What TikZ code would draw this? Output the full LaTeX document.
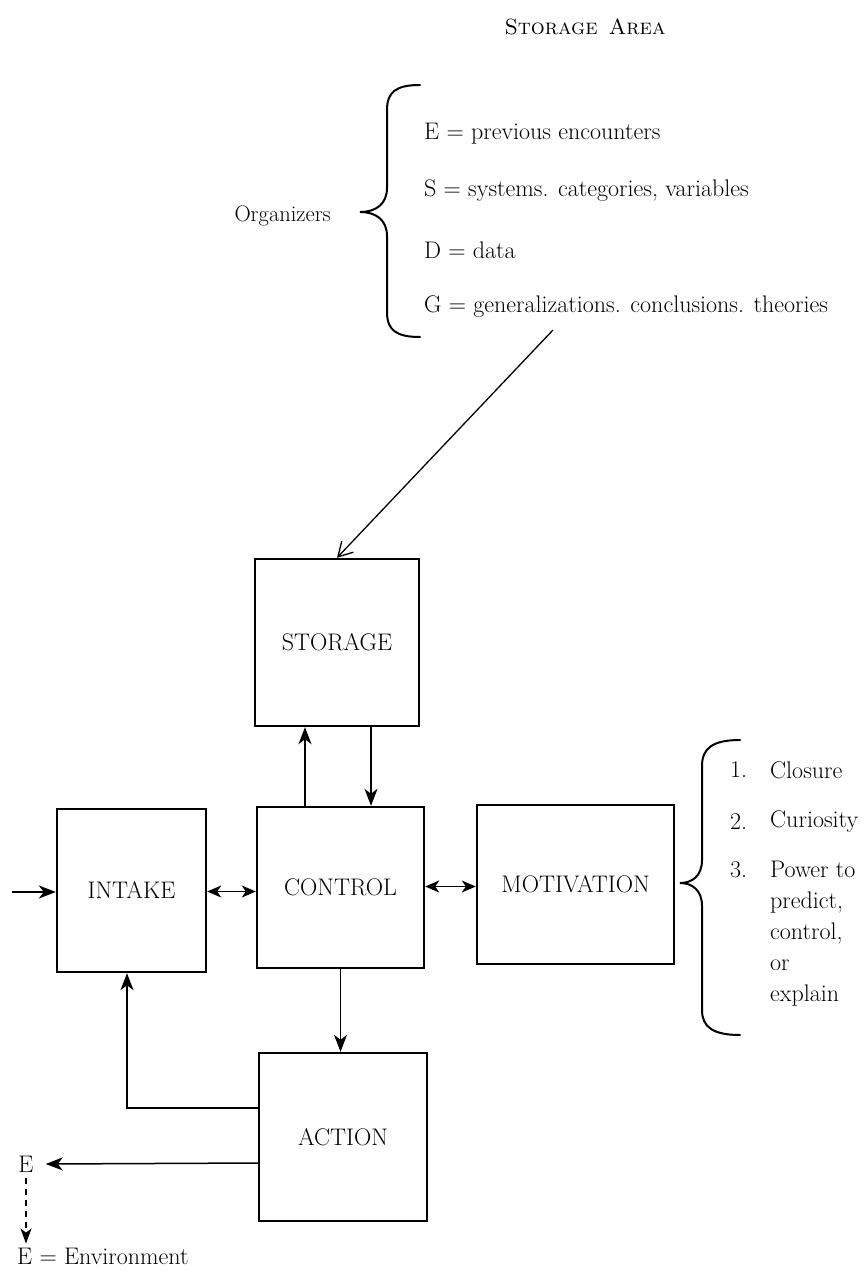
\documentclass[tikz,border=0pt]{standalone}
\usetikzlibrary{arrows.meta}
\begin{document}
\begin{tikzpicture}[x=1pt,y=-1pt,
  blk/.style={draw,line width=2.4pt,inner sep=0pt,font=\fontsize{24}{28}\selectfont},
  txt/.style={inner sep=0pt,font=\fontsize{24}{31}\selectfont},
  arr/.style={line width=1.5pt,-{Stealth[length=17pt,width=13pt,inset=5pt]}},
  darr/.style={line width=1.5pt,{Stealth[length=14pt,width=12pt,inset=4pt]}-{Stealth[length=14pt,width=12pt,inset=4pt]}},
  oarr/.style={line width=1.3pt,-{Straight Barb[length=14pt,width=16pt]}},
  brc/.style={line width=2pt,line cap=round}]
\useasboundingbox (0,0) rectangle (865,1273);

% title
\node[txt,font=\fontsize{22}{26}\selectfont] (title) at (585,27) {\textsc{Storage}\hspace{0.5em}\textsc{Area}};

% organizers brace and items
\node[txt,anchor=east,font=\fontsize{22.5}{26}\selectfont] (org) at (331,216) {Organizers};
\draw[brc] (420,85) .. controls (396,85) and (387,92) .. (387,110) -- (387,188)
  .. controls (387,204) and (376,212) .. (360,212)
  .. controls (376,212) and (387,220) .. (387,236) -- (387,312)
  .. controls (387,330) and (396,337) .. (420,337);
\node[txt,anchor=west] (oE) at (424,134) {E = previous encounters};
\node[txt,anchor=west] (oS) at (424,191) {S = systems. categories, variables};
\node[txt,anchor=west] (oD) at (424,250) {D = data};
\node[txt,anchor=west] (oG) at (424,307) {G = generalizations. conclusions. theories};
\coordinate (orgfrom) at (553,330);

% boxes
\node[blk,minimum width=164pt,minimum height=167pt] (storage) at (337,642.5) {STORAGE};
\node[blk,minimum width=149pt,minimum height=163pt] (intake) at (131.5,890.5) {INTAKE};
\node[blk,minimum width=167pt,minimum height=161pt] (control) at (340.5,887.5) {CONTROL};
\node[blk,minimum width=197pt,minimum height=159pt] (motivation) at (575.5,884.5) {MOTIVATION};
\node[blk,minimum width=168pt,minimum height=168pt] (action) at (343,1137) {ACTION};

% organizers arrow
\draw[oarr] (orgfrom) -- (storage.north);

% storage <-> control
\draw[arr] ([xshift=-35.5pt]control.north) -- ([xshift=-35.5pt]control.north |- storage.south);
\draw[arr] ([xshift=34pt]storage.south) -- ([xshift=34pt]storage.south |- control.north);

% intake input
\coordinate (in) at (12,892);
\draw[arr] (in) -- (in -| intake.west);

% double arrows
\draw[darr] ([yshift=-1pt]intake.east) -- ([yshift=-1pt]intake.east -| control.west);
\draw[darr] ([yshift=1pt]control.east) -- ([yshift=1pt]control.east -| motivation.west);

% control -> action
\draw[arr] (control.south) -- (control.south |- action.north);

% action -> intake feedback
\draw[arr] ([yshift=29pt]action.west) -| ([xshift=-4.5pt]intake.south);

% environment
\node[txt] (E) at (26,1164) {E};
\draw[arr] ([yshift=-26pt]action.west) -- ([xshift=12pt]E.east);
\node[txt,anchor=west] (env) at (17,1256) {E = Environment};
\draw[line width=1.5pt,dash pattern=on 6pt off 5pt,-{Stealth[length=15pt,width=11pt,inset=4pt]}] ([yshift=-6pt]E.south) -- ([yshift=4pt]E.south |- env.north);

% motivation brace and list
\draw[brc] (740,740) .. controls (713,740) and (702,748) .. (702,766) -- (702,860)
  .. controls (702,876) and (692,883) .. (680,883)
  .. controls (692,883) and (702,890) .. (702,906) -- (702,1010)
  .. controls (702,1027) and (713,1035) .. (740,1035);
\node[txt,anchor=west] (n1) at (730,770) {1.};
\node[txt,anchor=west] (m1) at (770,770) {Closure};
\node[txt,anchor=west] (n2) at (730,822) {2.};
\node[txt,anchor=west] (m2) at (770,822) {Curiosity};
\node[txt,anchor=west] (n3) at (730,870) {3.};
\node[txt,anchor=north west,align=left] (m3) at (770,861) {Power to\\predict,\\control,\\or\\explain};
\end{tikzpicture}
\end{document}
